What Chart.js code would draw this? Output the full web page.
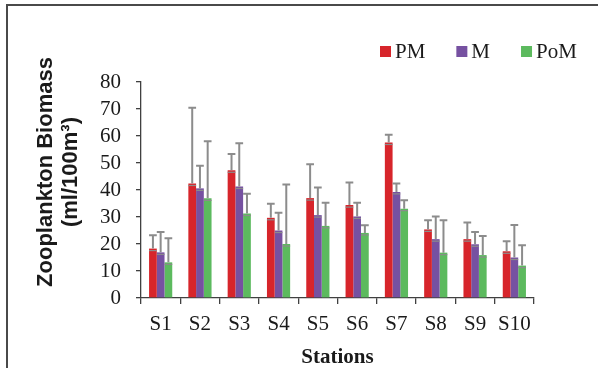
<!DOCTYPE html>
<html>
<head>
<meta charset="utf-8">
<script src="https://cdn.jsdelivr.net/npm/chart.js@4"></script>
<style>
  html, body { margin: 0; padding: 0; background: #fff; }
  #wrap { position: relative; width: 598px; height: 368px; }
</style>
</head>
<body>
<div id="wrap"><canvas id="chart" width="598" height="368"></canvas></div>
<script>
const stations = ['S1', 'S2', 'S3', 'S4', 'S5', 'S6', 'S7', 'S8', 'S9', 'S10'];

const pm = [18.3, 42.4, 47.3, 29.7, 37.0, 34.4, 57.6, 25.4, 21.8, 17.3];
const m = [16.9, 40.6, 41.3, 25.0, 30.7, 30.2, 39.3, 21.8, 19.9, 15.0];
const pom = [13.2, 36.9, 31.3, 20.0, 26.7, 24.1, 33.1, 16.8, 15.9, 12.0];

// error bar heights (upper half only is visible)
const pmErr = [4.9, 28.1, 6.0, 5.2, 12.5, 8.4, 2.9, 3.4, 6.2, 3.7];
const mErr = [7.5, 8.4, 16.0, 6.6, 10.2, 5.1, 3.1, 8.4, 4.5, 12.0];
const pomErr = [8.9, 21.2, 7.3, 22.0, 8.6, 2.8, 3.1, 12.0, 7.1, 7.5];

const yTicks = [0, 10, 20, 30, 40, 50, 60, 70, 80];

const colors = ['#d7252b', '#7651a1', '#5cba5e'];
const axisColor = '#404040';
const serif = '"Liberation Serif", "Times New Roman", serif';
const sans = '"Liberation Sans", Arial, sans-serif';

// frame, titles, legend and error bars
const extras = {
    id: 'extras',
    beforeDraw(chart) {
        const ctx = chart.ctx;
        ctx.save();
        ctx.strokeStyle = '#4a4a4a';
        ctx.lineWidth = 2;
        ctx.beginPath();
        ctx.moveTo(7, 368);
        ctx.lineTo(7, 5);
        ctx.lineTo(598, 5);
        ctx.stroke();
        ctx.restore();
    },
    afterDatasetsDraw(chart) {
        const ctx = chart.ctx;
        const y = chart.scales.y;
        const errs = [pmErr, mErr, pomErr];
        ctx.save();
        ctx.strokeStyle = '#8c8c8c';
        ctx.lineWidth = 2;
        chart.data.datasets.forEach((ds, di) => {
            const meta = chart.getDatasetMeta(di);
            meta.data.forEach((bar, i) => {
                const half = bar.width / 2;
                const top = y.getPixelForValue(ds.data[i] + errs[di][i]);
                const base = bar.y;
                ctx.lineWidth = 2;
                ctx.beginPath();
                ctx.moveTo(bar.x, base);
                ctx.lineTo(bar.x, top);
                ctx.moveTo(bar.x - half, top);
                ctx.lineTo(bar.x + half, top);
                ctx.stroke();
                ctx.lineWidth = 1.2;
                ctx.beginPath();
                ctx.moveTo(bar.x - half, base + 2);
                ctx.lineTo(bar.x + half, base + 2);
                ctx.stroke();
            });
        });
        ctx.restore();
    },
    afterDraw(chart) {
        const ctx = chart.ctx;
        const area = chart.chartArea;
        ctx.save();
        ctx.fillStyle = '#1a1a1a';

        // y axis title
        ctx.translate(0, 172);
        ctx.rotate(-Math.PI / 2);
        ctx.font = 'bold 22px ' + sans;
        ctx.textAlign = 'center';
        ctx.textBaseline = 'alphabetic';
        ctx.fillText('Zooplankton Biomass', 0, 52);
        ctx.fillText('(ml/100m³)', 0, 77);
        ctx.setTransform(1, 0, 0, 1, 0, 0);

        // x axis title
        ctx.font = 'bold 21px ' + serif;
        ctx.fillText('Stations', (area.left + area.right) / 2, 363);

        // legend
        ctx.font = '21px ' + serif;
        ctx.textAlign = 'left';
        let x = 380;
        chart.data.datasets.forEach((ds, i) => {
            ctx.fillStyle = ds.backgroundColor;
            ctx.fillRect(x, 46, 11, 11);
            ctx.fillStyle = '#1a1a1a';
            ctx.fillText(ds.label, x + 15, 58);
            x += 15 + ctx.measureText(ds.label).width + 31;
        });
        ctx.restore();
    }
};

new Chart(document.getElementById('chart'), {
    type: 'bar',
    data: {
        labels: stations,
        datasets: [
            { label: 'PM', data: pm, backgroundColor: colors[0] },
            { label: 'M', data: m, backgroundColor: colors[1] },
            { label: 'PoM', data: pom, backgroundColor: colors[2] }
        ]
    },
    options: {
        responsive: false,
        animation: false,
        devicePixelRatio: 1,
        categoryPercentage: 0.59,
        barPercentage: 1,
        layout: {
            padding: { top: 82, right: 64, left: 0, bottom: 0 }
        },
        plugins: {
            legend: { display: false },
            tooltip: { enabled: false }
        },
        scales: {
            x: {
                afterFit: s => { s.height = 70; },
                border: { color: axisColor, width: 1.3 },
                grid: {
                    drawOnChartArea: false,
                    drawTicks: true,
                    tickLength: 6,
                    color: axisColor,
                    lineWidth: 1.3
                },
                ticks: {
                    color: '#1a1a1a',
                    padding: 8,
                    autoSkip: false,
                    maxRotation: 0,
                    font: { family: serif, size: 21 }
                }
            },
            y: {
                min: 0,
                max: 80,
                afterFit: s => { s.width = 141; },
                afterBuildTicks: s => { s.ticks = yTicks.map(v => ({ value: v })); },
                border: { color: axisColor, width: 1.3 },
                grid: {
                    drawOnChartArea: false,
                    drawTicks: true,
                    tickLength: 5,
                    color: axisColor,
                    lineWidth: 1.3
                },
                ticks: {
                    color: '#1a1a1a',
                    padding: 15,
                    autoSkip: false,
                    font: { family: serif, size: 21 }
                }
            }
        }
    },
    plugins: [extras]
});
</script>
</body>
</html>
